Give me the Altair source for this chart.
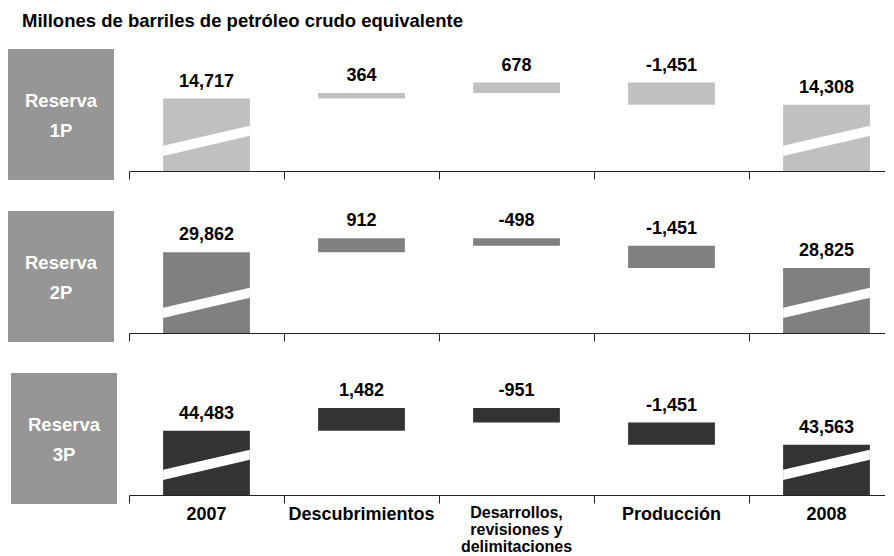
import altair as alt
import pandas as pd

# ---- data ----
categories = ["2007", "Descubrimientos", "Desarrollos,\nrevisiones y\ndelimitaciones", "Producción", "2008"]
panel_names = ["Reserva\n1P", "Reserva\n2P", "Reserva\n3P"]
values_1p = [14717, 364, 678, -1451, 14308]
values_2p = [29862, 912, -498, -1451, 28825]
values_3p = [44483, 1482, -951, -1451, 43563]
axis_min = [10000, 24600, 40300]   # broken-axis base of each panel
axis_max = [18200, 32800, 48500]
title_text = "Millones de barriles de petróleo crudo equivalente"

# ---- styles ----
FONT = "Liberation Sans"
bar_colors = ["#c0c0c0", "#808080", "#333333"]
box_color = "#969696"
PLOT_W, PLOT_H = 756, 126
HALF = 0.28
x_scale = alt.Scale(domain=[-0.5, -0.5 + PLOT_W / 155.0], nice=False, zero=False)
tick_vals = [-0.5, 0.5, 1.5, 2.5, 3.5]


def waterfall(vals, lo):
    rows = []
    running = vals[0]
    n = len(vals)
    for i, v in enumerate(vals):
        if i == 0 or i == n - 1:
            a, b = lo, v
            running = v
        else:
            a, b = running, running + v
            running += v
        rows.append(dict(idx=i, x0=i - HALF, x1=i + HALF,
                         ylo=min(a, b), yhi=max(a, b), label=f"{v:,}"))
    return pd.DataFrame(rows)


def stripes(lo, hi):
    r = hi - lo
    rows = []
    for i in (0, len(categories) - 1):
        rows.append(dict(bar=i, x=i - HALF, ya=lo + 0.12 * r, yb=lo + 0.20 * r))
        rows.append(dict(bar=i, x=i + HALF, ya=lo + 0.28 * r, yb=lo + 0.36 * r))
    return pd.DataFrame(rows)


def panel(k, vals):
    lo, hi = axis_min[k], axis_max[k]
    df = waterfall(vals, lo)
    y_scale = alt.Scale(domain=[lo, hi], nice=False, zero=False)
    base = alt.Chart(df)
    bars = base.mark_rect(color=bar_colors[k]).encode(
        x=alt.X("x0:Q", scale=x_scale,
                axis=alt.Axis(values=tick_vals, labels=False, title=None, grid=False,
                              tickSize=8, domainColor="#222222", tickColor="#222222",
                              domainWidth=1, tickWidth=1)),
        x2="x1:Q",
        y=alt.Y("ylo:Q", scale=y_scale, axis=None),
        y2="yhi:Q",
    )
    stripe = alt.Chart(stripes(lo, hi)).mark_area(color="white", opacity=1).encode(
        x=alt.X("x:Q", scale=x_scale),
        y=alt.Y("ya:Q", scale=y_scale),
        y2="yb:Q",
        detail="bar:N",
    )
    labels = base.mark_text(font=FONT, fontSize=18, fontWeight="bold", color="black",
                            baseline="alphabetic", dy=-12).encode(
        x=alt.X("idx:Q", scale=x_scale),
        y=alt.Y("yhi:Q", scale=y_scale),
        text="label:N",
    )
    box_x = -121 if k < 2 else -118
    name_df = pd.DataFrame({"name": [panel_names[k]]})
    box = alt.Chart(name_df).mark_rect(color=box_color).encode(
        x=alt.value(box_x), x2=alt.value(box_x + 106),
        y=alt.value(4), y2=alt.value(135),
    )
    box_text = alt.Chart(name_df).mark_text(
        font=FONT, fontSize=18.5, fontWeight="bold", color="white",
        align="center", baseline="alphabetic", lineBreak="\n", lineHeight=30,
    ).encode(x=alt.value(box_x + 53), y=alt.value(62), text="name:N")
    layers = [box, box_text, bars, stripe, labels]
    if k == 0:
        spacer = alt.Chart(name_df).mark_rect(opacity=0).encode(
            x=alt.value(-121), x2=alt.value(-120), y=alt.value(-37), y2=alt.value(-36))
        title = alt.Chart(pd.DataFrame({"t": [title_text]})).mark_text(
            font=FONT, fontSize=18.5, fontWeight="bold", color="black",
            align="left", baseline="alphabetic",
        ).encode(x=alt.value(-107), y=alt.value(-18), text="t:N")
        layers += [spacer, title]
    if k == 2:
        cat_df = pd.DataFrame({"idx": list(range(len(categories))), "cat": categories})
        cat_df["multi"] = cat_df["cat"].str.contains("\n")
        single = alt.Chart(cat_df).transform_filter("!datum.multi").mark_text(
            font=FONT, fontSize=18, fontWeight="bold", color="black",
            align="center", baseline="alphabetic",
        ).encode(x=alt.X("idx:Q", scale=x_scale), y=alt.value(PLOT_H + 25), text="cat:N")
        multi = alt.Chart(cat_df).transform_filter("datum.multi").mark_text(
            font=FONT, fontSize=16, fontWeight="bold", color="black",
            align="center", baseline="alphabetic", lineBreak="\n", lineHeight=17,
        ).encode(x=alt.X("idx:Q", scale=x_scale), y=alt.value(PLOT_H + 23), text="cat:N")
        layers += [single, multi]
    return alt.layer(*layers).properties(width=PLOT_W, height=PLOT_H)


chart = alt.vconcat(
    panel(0, values_1p), panel(1, values_2p), panel(2, values_3p),
    spacing=36, bounds="flush",
).properties(padding=0).configure_view(stroke=None)

chart.save("out.html", embed_options={"renderer": "svg", "actions": False})
